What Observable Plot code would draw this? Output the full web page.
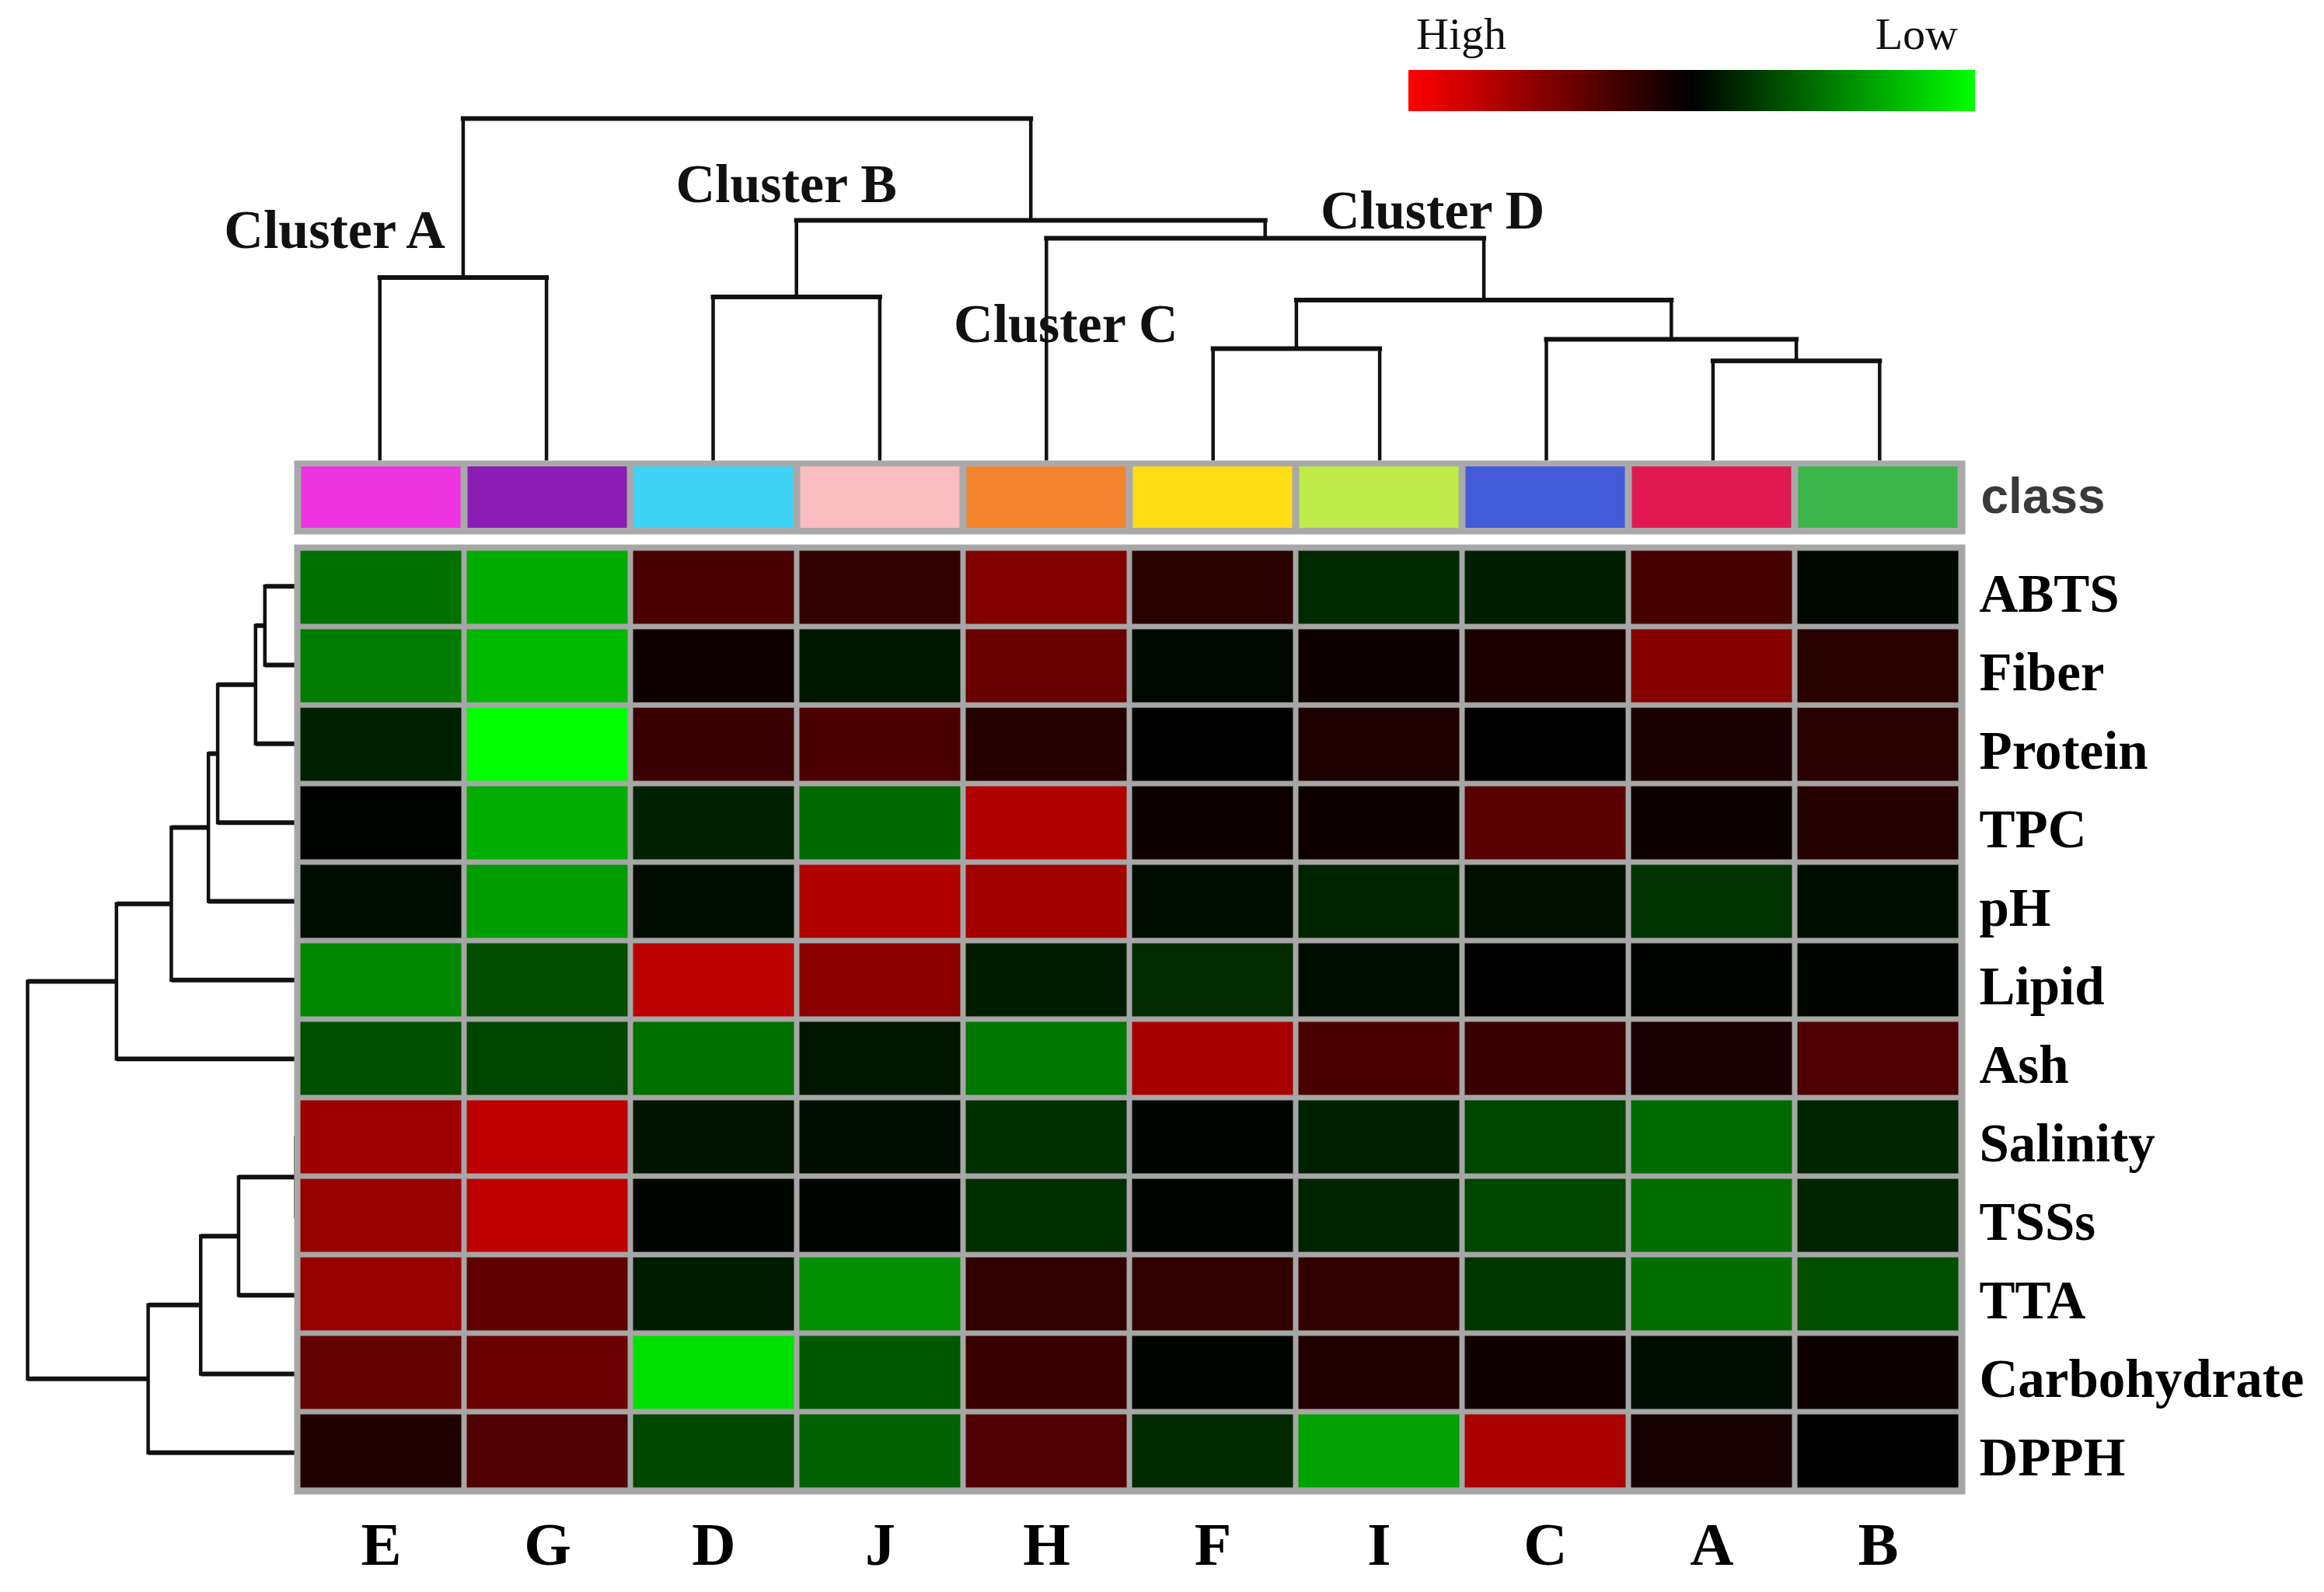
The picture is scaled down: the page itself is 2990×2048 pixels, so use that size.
<!DOCTYPE html>
<html><head><meta charset="utf-8">
<script src="https://cdn.jsdelivr.net/npm/d3@7"></script>
<script src="https://cdn.jsdelivr.net/npm/@observablehq/plot@0.6"></script>
<style>
html,body{margin:0;padding:0;background:#fff;}
#chart{position:relative;width:2990px;height:2048px;background:#fff;overflow:hidden;font-family:"Liberation Serif",serif;}
#chart > *{position:absolute;}
.lg{font-family:"Liberation Serif",serif;font-size:58px;line-height:1;color:#111;white-space:nowrap;}
</style></head><body><div id="chart"></div>
<script>
// ---------------- data ----------------
const columns = ["E","G","D","J","H","F","I","C","A","B"];
const classColors = ["#EE33E0","#8B1DB5","#3FD3F5","#F7BDC0","#F5842F","#FFDD17","#C0EA48","#435BD8","#E01A50","#3CB54A"];
const rows = ["ABTS","Fiber","Protein","TPC","pH","Lipid","Ash","Salinity","TSSs","TTA","Carbohydrate","DPPH"];
// standardized values, +1 = High (red), -1 = Low (green); one row per variable, columns in order above
const heatValues = [
  [-0.44,-0.67, 0.29, 0.19, 0.50, 0.16,-0.16,-0.12, 0.28,-0.03], // ABTS
  [-0.49,-0.72, 0.06,-0.09, 0.41,-0.04, 0.05, 0.11, 0.52, 0.16], // Fiber
  [-0.13,-1.00, 0.22, 0.29, 0.14, 0.00, 0.12, 0.00, 0.10, 0.16], // Protein
  [-0.01,-0.68,-0.13,-0.41, 0.69, 0.05, 0.05, 0.35, 0.05, 0.14], // TPC
  [-0.05,-0.61,-0.05, 0.69, 0.64,-0.05,-0.14,-0.06,-0.20,-0.05], // pH
  [-0.53,-0.30, 0.73, 0.55,-0.11,-0.17,-0.05, 0.00,-0.01,-0.02], // Lipid
  [-0.31,-0.27,-0.44,-0.08,-0.47, 0.66, 0.29, 0.22, 0.10, 0.31], // Ash
  [ 0.61, 0.75,-0.07,-0.05,-0.19,-0.02,-0.13,-0.27,-0.42,-0.14], // Salinity
  [ 0.60, 0.75,-0.02,-0.02,-0.19,-0.01,-0.14,-0.27,-0.43,-0.14], // TSSs
  [ 0.60, 0.38,-0.11,-0.56, 0.19, 0.20, 0.20,-0.21,-0.43,-0.31], // TTA
  [ 0.39, 0.42,-0.88,-0.35, 0.22,-0.02, 0.13, 0.06,-0.05, 0.05], // Carbohydrate
  [ 0.12, 0.31,-0.28,-0.38, 0.31,-0.16,-0.63, 0.67, 0.09, 0.00]  // DPPH
];
// dendrogram merges: [child, child, height]; numbers refer to earlier merges
const colMerges = [
  ["E","G",2.37],   // 0 Cluster A
  ["D","J",2.12],   // 1 Cluster B
  ["A","B",1.29],   // 2
  ["C",2,1.57],     // 3
  ["F","I",1.45],   // 4
  [4,3,2.08],       // 5 Cluster D
  ["H",5,2.88],     // 6
  [1,6,3.11],       // 7
  [0,7,4.43]        // 8 root
];
const rowMerges = [
  ["ABTS","Fiber",0.41],     // 0
  [0,"Protein",0.53],        // 1
  [1,"TPC",1.02],            // 2
  [2,"pH",1.14],             // 3
  [3,"Lipid",1.62],          // 4
  [4,"Ash",2.33],            // 5
  ["Salinity","TSSs",0.01],  // 6
  [6,"TTA",0.75],            // 7
  [7,"Carbohydrate",1.24],   // 8
  [8,"DPPH",1.92],           // 9
  [5,9,3.48]                 // 10 root
];
const clusterNames = ["Cluster A","Cluster B","Cluster C","Cluster D"];
const clusterNodes = [0, 1, "H", 5];
const legendLabels = ["High","Low"];

// ---------------- helpers ----------------
function dendro(leaves, merges) {
  const nodes = [];
  const pos = c => typeof c === "number" ? nodes[c] : {p: leaves.indexOf(c) + 0.5, h: 0};
  const stems = [], bars = [];
  for (const [a, b, h] of merges) {
    const A = pos(a), B = pos(b);
    stems.push({p1: A.p, h1: A.h, p2: A.p, h2: h});
    stems.push({p1: B.p, h1: B.h, p2: B.p, h2: h});
    bars.push({p1: A.p, h1: h, p2: B.p, h2: h});
    nodes.push({p: (A.p + B.p) / 2, h});
  }
  return {nodes, stems, bars, pos};
}

const chart = document.getElementById("chart");
const W = 2990;
const plotLeft = 381, plotRight = 2525;
const baseStyle = {background: "none", overflow: "visible", fontFamily: "Liberation Serif", color: "#000"};

// ---------------- top dendrogram ----------------
const cd = dendro(columns, colMerges);
const labelOffsets = [[-23,-61,"end"],[-13,-144,"middle"],[25,-175,"middle"],[-66,-114,"middle"]];
const clusterMarks = clusterNames.map((name, i) => {
  const n = cd.pos(clusterNodes[i]);
  const [dx, dy, anchor] = labelOffsets[i];
  return Plot.text([{p: n.p, h: n.h, name}], {x: "p", y: "h", text: "name", dx, dy, textAnchor: anchor,
    fontSize: 70, fontWeight: "bold", fontFamily: "Liberation Serif", fill: "#111"});
});
const topDendro = Plot.plot({
  width: W, height: 592,
  marginLeft: plotLeft, marginRight: W - plotRight, marginTop: 152, marginBottom: 0,
  x: {domain: [0, columns.length], axis: null},
  y: {domain: [0, 4.43], axis: null},
  style: baseStyle,
  marks: [
    Plot.link(cd.stems, {x1: "p1", y1: "h1", x2: "p2", y2: "h2", stroke: "#111", strokeWidth: 4.5}),
    Plot.link(cd.bars, {x1: "p1", y1: "h1", x2: "p2", y2: "h2", stroke: "#111", strokeWidth: 6, strokeLinecap: "square"}),
    ...clusterMarks
  ]
});
topDendro.style.left = "0px"; topDendro.style.top = "0px";
chart.appendChild(topDendro);

// ---------------- class bar ----------------
const classData = columns.map((c, i) => ({col: c, row: "class", color: classColors[i]}));
const classBar = Plot.plot({
  width: W, height: 95,
  marginLeft: plotLeft, marginRight: W - plotRight, marginTop: 3, marginBottom: 3,
  x: {domain: columns, padding: 0, axis: null},
  y: {domain: ["class"], padding: 0, axis: null},
  style: baseStyle,
  marks: [
    Plot.frame({fill: "#a9a9a9", stroke: "#a9a9a9", strokeWidth: 6}),
    Plot.cell(classData, {x: "col", y: "row", fill: "color", insetLeft: 4.5, insetRight: 4.5, insetTop: 5, insetBottom: 5}),
    Plot.axisY({anchor: "right", tickSize: 0, tickPadding: 23, fontSize: 64, fontWeight: "bold",
      fontFamily: "Liberation Sans", fill: "#3a3a3a", label: null})
  ]
});
classBar.style.left = "0px"; classBar.style.top = "592px";
chart.appendChild(classBar);

// ---------------- left dendrogram ----------------
const rd = dendro(rows, rowMerges);
const leftDendro = Plot.plot({
  width: plotLeft, height: 1222,
  marginLeft: 35, marginRight: 0, marginTop: 3, marginBottom: 3,
  x: {domain: [0, 3.48], reverse: true, axis: null},
  y: {domain: [0, rows.length], reverse: true, axis: null},
  style: baseStyle,
  marks: [
    Plot.link(rd.bars, {x1: "h1", y1: "p1", x2: "h2", y2: "p2", stroke: "#111", strokeWidth: 4.5, strokeLinecap: "square"}),
    Plot.link(rd.stems, {x1: "h1", y1: "p1", x2: "h2", y2: "p2", stroke: "#111", strokeWidth: 6})
  ]
});
leftDendro.style.left = "0px"; leftDendro.style.top = "700px";
chart.appendChild(leftDendro);

// ---------------- heatmap ----------------
const cells = rows.flatMap((r, i) => columns.map((c, j) => ({row: r, col: c, value: heatValues[i][j]})));
const heat = Plot.plot({
  width: W, height: 1348,
  marginLeft: plotLeft, marginRight: W - plotRight, marginTop: 3, marginBottom: 129,
  x: {domain: columns, padding: 0},
  y: {domain: rows, padding: 0},
  color: {type: "linear", domain: [-1, 0, 1], range: ["#00ff00", "#000000", "#ff0000"]},
  style: baseStyle,
  marks: [
    Plot.frame({fill: "#a6a6a6", stroke: "#a6a6a6", strokeWidth: 6}),
    Plot.cell(cells, {x: "col", y: "row", fill: "value", inset: 3.5}),
    Plot.axisY({anchor: "right", tickSize: 0, tickPadding: 21, dy: 9, fontSize: 69, fontWeight: "bold", fill: "#000", label: null}),
    Plot.axisX({anchor: "bottom", tickSize: 0, tickPadding: 38, fontSize: 78, fontWeight: "bold", fill: "#000", label: null})
  ]
});
heat.style.left = "0px"; heat.style.top = "700px";
chart.appendChild(heat);

// ---------------- legend ----------------
const legend = Plot.legend({
  color: {type: "linear", domain: [1, 0, -1], range: ["#ff0000", "#000000", "#00ff00"]},
  width: 729, height: 53, marginTop: 0, marginBottom: 0, marginLeft: 0, marginRight: 0,
  ticks: [], tickSize: 0, tickFormat: () => "", label: null, style: {background: "none"}
});
legend.style.left = "1812px"; legend.style.top = "90px";
chart.appendChild(legend);

const hi = document.createElement("div");
hi.className = "lg"; hi.textContent = legendLabels[0];
hi.style.left = "1822px"; hi.style.top = "15px";
chart.appendChild(hi);
const lo = document.createElement("div");
lo.className = "lg"; lo.textContent = legendLabels[1];
lo.style.right = (W - 2519) + "px"; lo.style.top = "15px";
chart.appendChild(lo);
</script>
</body></html>
